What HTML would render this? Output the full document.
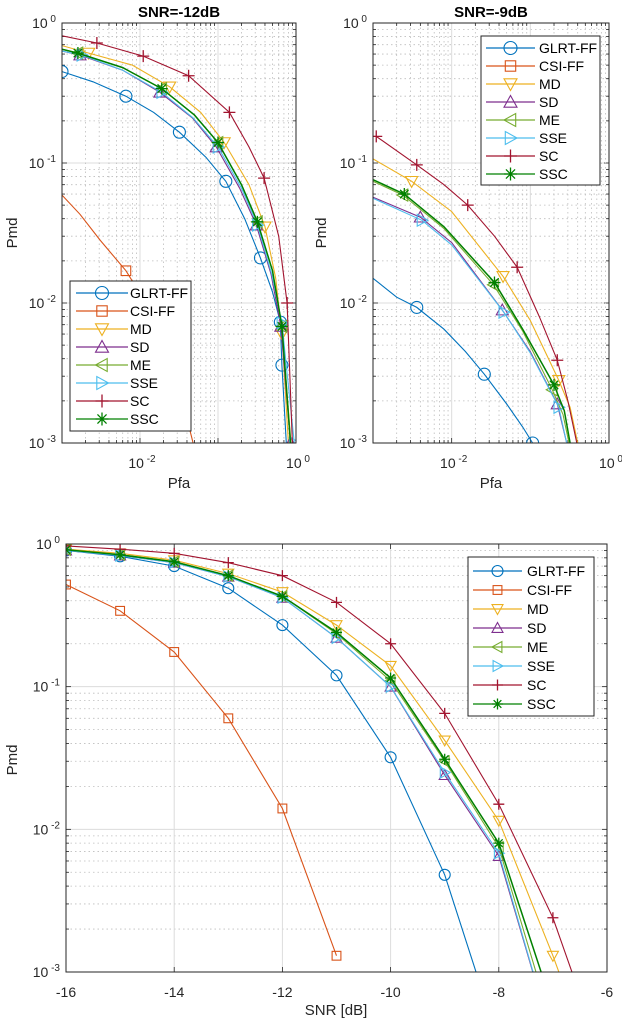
<!DOCTYPE html>
<html><head><meta charset="utf-8"><style>
html,body{margin:0;padding:0;background:#fff;overflow:hidden;}
svg{display:block;font-family:"Liberation Sans",sans-serif;}
</style></head><body>
<svg id="fig" width="622" height="1024" viewBox="0 0 622 1024" xmlns="http://www.w3.org/2000/svg"></svg>
<script>
// ---------- shared ----------
const seriesNames = ["GLRT-FF","CSI-FF","MD","SD","ME","SSE","SC","SSC"];
const seriesColors = ["#0072BD","#D95319","#EDB120","#7E2F8E","#77AC30","#4DBEEE","#A2142F","#008000"];
const seriesMarkers = ["o","s","v","^","<",">","+","*"];

// ---------- top-left: SNR=-12dB ----------
const tlGlrtPfa = [0.001,0.0025,0.0066,0.015,0.032,0.07,0.126,0.22,0.35,0.5,0.63,0.66,0.75];
const tlGlrtPmd = [0.45,0.38,0.30,0.23,0.166,0.11,0.074,0.04,0.021,0.012,0.0073,0.0036,0.001];
const tlCsiPfa = [0.001,0.0017,0.0031,0.0066,0.0135,0.028,0.048];
const tlCsiPmd = [0.059,0.043,0.028,0.017,0.0089,0.0033,0.001];
const tlMdPfa = [0.001,0.0022,0.008,0.024,0.06,0.12,0.25,0.4,0.55,0.66,0.8];
const tlMdPmd = [0.69,0.61,0.5,0.35,0.23,0.14,0.07,0.035,0.015,0.006,0.001];
const tlSdPfa = [0.001,0.0017,0.006,0.018,0.047,0.095,0.19,0.31,0.48,0.64,0.85];
const tlSdPmd = [0.63,0.59,0.46,0.32,0.21,0.13,0.066,0.036,0.016,0.0068,0.001];
const tlMePfa = [0.001,0.0016,0.006,0.019,0.05,0.1,0.2,0.32,0.5,0.66,0.86];
const tlMePmd = [0.65,0.61,0.48,0.34,0.22,0.14,0.07,0.038,0.017,0.0068,0.001];
const tlSsePfa = [0.001,0.0018,0.006,0.019,0.048,0.1,0.2,0.32,0.49,0.66,0.95];
const tlSsePmd = [0.63,0.59,0.46,0.32,0.21,0.13,0.066,0.036,0.016,0.0072,0.001];
const tlScPfa = [0.001,0.0028,0.011,0.042,0.14,0.25,0.39,0.6,0.77,0.9];
const tlScPmd = [0.81,0.72,0.58,0.42,0.23,0.13,0.078,0.03,0.01,0.001];
const tlSscPfa = [0.001,0.0016,0.006,0.019,0.05,0.1,0.2,0.32,0.5,0.66,0.85];
const tlSscPmd = [0.65,0.61,0.48,0.34,0.22,0.14,0.07,0.038,0.017,0.0068,0.001];
const tlMarkIdx = [[0,2,4,6,8,10,11],[3],[1,3,5,7,9],[1,3,5,7,9,10],[1,3,5,7,9],[1,3,5,7,9,10],[1,2,3,4,6,8],[1,3,5,7,9]];

// ---------- top-right: SNR=-9dB ----------
const trGlrtPfa = [0.001,0.002,0.0036,0.008,0.015,0.026,0.05,0.08,0.107];
const trGlrtPmd = [0.015,0.011,0.0093,0.0065,0.0045,0.0031,0.0019,0.0013,0.001];
const trCsiPfa = [];
const trCsiPmd = [];
const trMdPfa = [0.001,0.0031,0.01,0.045,0.1,0.23,0.32,0.4];
const trMdPmd = [0.107,0.074,0.045,0.0155,0.0075,0.0028,0.0018,0.001];
const trSdPfa = [0.001,0.004,0.01,0.044,0.1,0.22,0.29];
const trSdPmd = [0.057,0.041,0.027,0.0089,0.0045,0.0019,0.001];
const trMePfa = [0.001,0.0024,0.008,0.034,0.08,0.19,0.26,0.31];
const trMePmd = [0.074,0.059,0.034,0.0135,0.0063,0.0024,0.0016,0.001];
const trSsePfa = [0.001,0.0042,0.01,0.046,0.1,0.23,0.29];
const trSsePmd = [0.056,0.039,0.026,0.0086,0.0044,0.0018,0.001];
const trScPfa = [0.001,0.0011,0.0036,0.008,0.016,0.035,0.068,0.13,0.22,0.3,0.39];
const trScPmd = [0.155,0.155,0.097,0.07,0.05,0.03,0.018,0.008,0.0039,0.002,0.001];
const trSscPfa = [0.001,0.0025,0.008,0.035,0.08,0.2,0.27,0.32];
const trSscPmd = [0.076,0.06,0.035,0.014,0.0065,0.0026,0.0017,0.001];
const trMarkIdx = [[2,5,8],[],[1,3,5],[1,3,5],[1,3,5],[1,3,5],[1,2,4,6,8],[1,3,5]];

// ---------- bottom: Pmd vs SNR ----------
const snrValues = [-16,-15,-14,-13,-12,-11,-10,-9,-8,-7,-6];
const bGlrt = [0.9,0.82,0.7,0.49,0.27,0.12,0.032,0.0048,0.00032,null,null];
const bCsi = [0.52,0.34,0.175,0.06,0.014,0.0013,null,null,null,null,null];
const bMd = [0.92,0.86,0.77,0.62,0.46,0.27,0.14,0.042,0.0115,0.0013,0.00012];
const bSd = [0.9,0.83,0.74,0.59,0.42,0.22,0.1,0.024,0.0065,0.00033,null];
const bMe = [0.91,0.84,0.75,0.6,0.43,0.235,0.11,0.03,0.0075,0.0004,null];
const bSse = [0.9,0.83,0.74,0.59,0.42,0.22,0.1,0.025,0.0068,0.00033,null];
const bSc = [0.97,0.92,0.86,0.74,0.6,0.39,0.2,0.065,0.015,0.0024,0.0002];
const bSsc = [0.91,0.84,0.75,0.6,0.43,0.24,0.115,0.031,0.008,0.00056,null];
const xTicksBottom = [-16,-14,-12,-10,-8,-6];

const NS = "http://www.w3.org/2000/svg";
const fig = document.getElementById('fig');
function el(tag, attrs, parent){ const e=document.createElementNS(NS,tag); for(const k in attrs) e.setAttribute(k,attrs[k]); (parent||fig).appendChild(e); return e; }
const log10 = Math.log10;

function marker(g, type, x, y, r, color){
  let m;
  if(type==='o') m=el('circle',{cx:x,cy:y,r:r,fill:'none',stroke:color,'stroke-width':1.1},g);
  else if(type==='s') m=el('rect',{x:x-r*0.8,y:y-r*0.8,width:r*1.6,height:r*1.6,fill:'none',stroke:color,'stroke-width':1.1},g);
  else if(type==='v') m=el('polygon',{points:`${x-r},${y-r*0.8} ${x+r},${y-r*0.8} ${x},${y+r}`,fill:'none',stroke:color,'stroke-width':1.1},g);
  else if(type==='^') m=el('polygon',{points:`${x-r},${y+r*0.8} ${x+r},${y+r*0.8} ${x},${y-r}`,fill:'none',stroke:color,'stroke-width':1.1},g);
  else if(type==='<') m=el('polygon',{points:`${x+r*0.8},${y-r} ${x+r*0.8},${y+r} ${x-r},${y}`,fill:'none',stroke:color,'stroke-width':1.1},g);
  else if(type==='>') m=el('polygon',{points:`${x-r*0.8},${y-r} ${x-r*0.8},${y+r} ${x+r},${y}`,fill:'none',stroke:color,'stroke-width':1.1},g);
  else if(type==='+') m=el('path',{d:`M${x-r},${y}H${x+r}M${x},${y-r}V${y+r}`,fill:'none',stroke:color,'stroke-width':1.3},g);
  else m=el('path',{d:`M${x-r},${y}H${x+r}M${x},${y-r}V${y+r}M${x-r*.7},${y-r*.7}L${x+r*.7},${y+r*.7}M${x-r*.7},${y+r*.7}L${x+r*.7},${y-r*.7}`,fill:'none',stroke:color,'stroke-width':1.3},g);
  
  
  return m;
}

function powLabel(g, x, y, exp, anchor){
  const t=el('text',{x:x,y:y,'font-size':14,fill:'#262626','text-anchor':anchor},g);
  
  
  t.appendChild(document.createTextNode('10'));
  const s=el('tspan',{dy:-6,'font-size':10},t); s.textContent=' '+exp;
  return t;
}

function logAxes(id, L, T, W, H, xDec, yDec, xlog){
  const g=el('g',{});
  
  
  const cp=el('clipPath',{id:id+'-clip'},g); el('rect',{x:L,y:T,width:W,height:H},cp);
  const yMin=yDec[0], yMax=yDec[1];
  const Y=v=>T+H*(yMax-log10(v))/(yMax-yMin);
  let X;
  if(xlog){ X=v=>L+W*(log10(v)-xDec[0])/(xDec[1]-xDec[0]); }
  else { X=v=>L+W*(v-xDec[0])/(xDec[1]-xDec[0]); }
  for(let d=yMin; d<yMax; d++){
    for(let k=2;k<10;k++){ const yy=Y(k*Math.pow(10,d)); el('line',{x1:L,x2:L+W,y1:yy,y2:yy,stroke:'#bdbdbd','stroke-width':0.8,'stroke-dasharray':'1.5,3'},g);
      el('line',{x1:L,x2:L+3,y1:yy,y2:yy,stroke:'#262626','stroke-width':0.8},g); el('line',{x1:L+W-3,x2:L+W,y1:yy,y2:yy,stroke:'#262626','stroke-width':0.8},g);}
  }
  for(let d=yMin; d<=yMax; d++){ const yy=Y(Math.pow(10,d)); el('line',{x1:L,x2:L+W,y1:yy,y2:yy,stroke:'#dcdcdc','stroke-width':1},g);
    el('line',{x1:L,x2:L+5,y1:yy,y2:yy,stroke:'#262626','stroke-width':0.8},g); el('line',{x1:L+W-5,x2:L+W,y1:yy,y2:yy,stroke:'#262626','stroke-width':0.8},g);
    powLabel(g, L-6, yy+5, d, 'end'); }
  if(xlog){
    for(let d=xDec[0]; d<xDec[1]; d++){
      for(let k=2;k<10;k++){ const xx=X(k*Math.pow(10,d)); el('line',{x1:xx,x2:xx,y1:T,y2:T+H,stroke:'#bdbdbd','stroke-width':0.8,'stroke-dasharray':'1.5,3'},g);
        el('line',{x1:xx,x2:xx,y1:T+H-3,y2:T+H,stroke:'#262626','stroke-width':0.8},g); el('line',{x1:xx,x2:xx,y1:T,y2:T+3,stroke:'#262626','stroke-width':0.8},g);}
    }
    for(let d=xDec[0]; d<=xDec[1]; d++){ const xx=X(Math.pow(10,d)); el('line',{x1:xx,x2:xx,y1:T,y2:T+H,stroke:'#dcdcdc','stroke-width':1},g);
      el('line',{x1:xx,x2:xx,y1:T+H-5,y2:T+H,stroke:'#262626','stroke-width':0.8},g);
      if((d-xDec[0])%2===1) powLabel(g, xx+2, T+H+25, d, 'middle'); }
  }
  return {g,X,Y,L,T,W,H,clip:'url(#'+id+'-clip)'};
}

function drawSeries(ax, xs, ys, color, type, markIdx, r, name, lw){
  const g=el('g',{'clip-path':ax.clip},ax.g);
  
  
  const pts=[];
  for(let i=0;i<xs.length;i++){ if(ys[i]==null) continue; pts.push(ax.X(xs[i]).toFixed(1)+','+ax.Y(ys[i]).toFixed(1)); }
  if(pts.length>1){ const p=el('polyline',{points:pts.join(' '),fill:'none',stroke:color,'stroke-width':lw||1.1},g);
    
     }
  markIdx.forEach(i=>{ if(ys[i]!=null) marker(g,type,ax.X(xs[i]),ax.Y(ys[i]),r,color); });
}

function box(ax){ const b=el('rect',{x:ax.L,y:ax.T,width:ax.W,height:ax.H,fill:'none',stroke:'#262626','stroke-width':1},ax.g);
    }

function legend(x,y,w,h,rowY0,step,lineX0,lineX1,textX,r,fs){
  const g=el('g',{});
  
  
  el('rect',{x:x,y:y,width:w,height:h,fill:'#fff',stroke:'#262626','stroke-width':1},g);
  seriesNames.forEach((n,i)=>{
    const yy=rowY0+i*step;
    const e=el('g',{},g);
    
    
    el('line',{x1:lineX0,x2:lineX1,y1:yy,y2:yy,stroke:seriesColors[i],'stroke-width':1.2},e);
    marker(e,seriesMarkers[i],(lineX0+lineX1)/2,yy,r,seriesColors[i]);
    const t=el('text',{x:textX,y:yy+5,'font-size':fs,fill:'#000'},e); t.textContent=n;
  });
}

function label(txt,x,y,opts){ const t=el('text',Object.assign({x:x,y:y,'font-size':15,fill:'#262626','text-anchor':'middle'},opts||{})); t.textContent=txt; return t; }

// ---- top-left
const axTL=logAxes('tl',62,23,234,420,[-3,0],[-3,0],true);
const tlX=[tlGlrtPfa,tlCsiPfa,tlMdPfa,tlSdPfa,tlMePfa,tlSsePfa,tlScPfa,tlSscPfa];
const tlY=[tlGlrtPmd,tlCsiPmd,tlMdPmd,tlSdPmd,tlMePmd,tlSsePmd,tlScPmd,tlSscPmd];
[1,0,2,3,4,5,6,7].forEach(i=>drawSeries(axTL,tlX[i],tlY[i],seriesColors[i],seriesMarkers[i],tlMarkIdx[i],6,seriesNames[i],i===7?1.5:1.1));
box(axTL);
legend(70,281,121,150,293,18,76,128,130,6.5,14);
let t=label('SNR=-12dB',179,17,{'font-weight':'bold','font-size':15,fill:'#000'});  
t=label('Pfa',179,488);  
t=label('Pmd',17,233,{transform:'rotate(-90 17 233)'});  

// ---- top-right
const axTR=logAxes('tr',373,23,236,420,[-3,0],[-3,0],true);
const trX=[trGlrtPfa,trCsiPfa,trMdPfa,trSdPfa,trMePfa,trSsePfa,trScPfa,trSscPfa];
const trY=[trGlrtPmd,trCsiPmd,trMdPmd,trSdPmd,trMePmd,trSsePmd,trScPmd,trSscPmd];
[0,1,2,3,4,5,6,7].forEach(i=>drawSeries(axTR,trX[i],trY[i],seriesColors[i],seriesMarkers[i],trMarkIdx[i],6,seriesNames[i],i===7?1.5:1.1));
box(axTR);
legend(481,36,119,149,48,18,486,535,539,6.5,14);
t=label('SNR=-9dB',491,17,{'font-weight':'bold','font-size':15,fill:'#000'});  
t=label('Pfa',491,488);  
t=label('Pmd',326,233,{transform:'rotate(-90 326 233)'});  

// ---- bottom
const axB=logAxes('b',66,544,541,428,[-16,-6],[-3,0],false);
xTicksBottom.forEach(v=>{ const xx=axB.X(v);
  if(v>-16 && v<-6) el('line',{x1:xx,x2:xx,y1:axB.T,y2:axB.T+axB.H,stroke:'#dcdcdc','stroke-width':1},axB.g);
  el('line',{x1:xx,x2:xx,y1:axB.T+axB.H-5,y2:axB.T+axB.H,stroke:'#262626','stroke-width':0.8},axB.g);
  el('line',{x1:xx,x2:xx,y1:axB.T,y2:axB.T+5,stroke:'#262626','stroke-width':0.8},axB.g);
  const tl=el('text',{x:xx,y:997,'font-size':14,fill:'#262626','text-anchor':'middle'},axB.g); tl.textContent=String(v);
   
});
const bY=[bGlrt,bCsi,bMd,bSd,bMe,bSse,bSc,bSsc];
[1,0,2,3,4,5,6,7].forEach(i=>{ const idx=bY[i].map((v,j)=>j); drawSeries(axB,snrValues,bY[i],seriesColors[i],seriesMarkers[i],idx,5.5,seriesNames[i],i===7?1.5:1.1); });
box(axB);
legend(468,557,126,159,571,19,473,522,527,5.5,14);
t=label('SNR [dB]',336,1015);  
t=label('Pmd',17,760,{transform:'rotate(-90 17 760)'});  
</script>
</body></html>
